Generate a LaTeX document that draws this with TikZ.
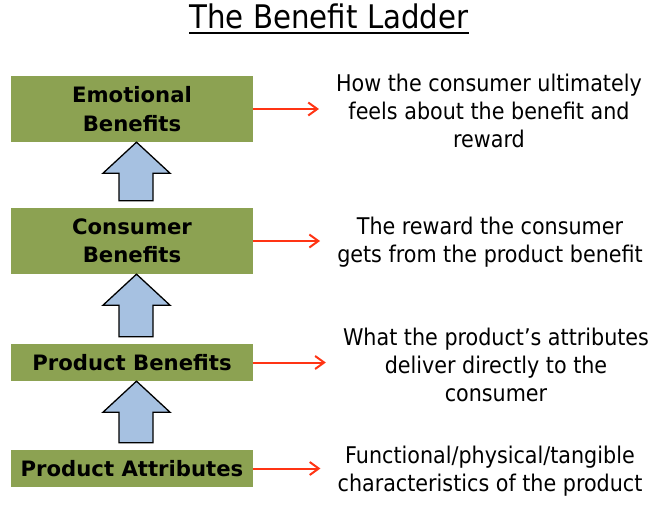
\documentclass[tikz,border=0pt]{standalone}
\usepackage{fontspec}
\setmainfont{DejaVu Sans Condensed}[BoldFont={DejaVu Sans Bold}]
\usetikzlibrary{arrows.meta,calc}
\definecolor{boxgreen}{HTML}{8CA252}
\definecolor{arrowblue}{HTML}{A6C1E1}
\definecolor{linkred}{HTML}{FF3414}
\tikzset{
  level/.style={draw=none, fill=boxgreen, minimum width=242pt, inner sep=0pt, align=center,
    font=\fontsize{21.2}{28.5}\selectfont\bfseries},
  desc/.style={inner sep=0pt, align=center, font=\fontsize{23}{28}\selectfont},
  link/.style={draw=linkred, line width=2pt, -{Straight Barb[length=9pt,width=13pt]}, shorten >=17pt},
  blockarrow/.style={draw=black, line width=1.3pt, fill=arrowblue, line join=miter}
}
\newcommand{\ladderarrow}[2]{%
  \draw[blockarrow] let \p1=(#1.south), \p2=(#2.north) in
    (\x1+4.5pt,\y1) -- (\x1+38pt,\y1-31pt) -- (\x1+21pt,\y1-31pt) -- (\x1+21pt,\y2+7pt)
    -- (\x1-13pt,\y2+7pt) -- (\x1-13pt,\y1-31pt) -- (\x1-29pt,\y1-31pt) -- cycle;}
\begin{document}
\begin{tikzpicture}[x=1pt,y=-1pt]
\useasboundingbox (0,0) rectangle (661,506);
% title
\node[inner sep=0pt, anchor=base, font=\fontsize{32.5}{38}\selectfont] (title) at (329,28) {The Benefit Ladder};
\draw[line width=2pt] ([yshift=-5pt]title.base west) -- ([yshift=-5pt]title.base east);
% ladder boxes
\node[level, minimum height=66pt] (emo) at (132,109) {Emotional\\Benefits};
\node[level, minimum height=66pt] (con) at (132,241) {Consumer\\Benefits};
\node[level, minimum height=37pt] (pb) at (132,362.5) {Product Benefits};
\node[level, minimum height=37pt] (pa) at (132,468.5) {Product Attributes};
% block arrows
\ladderarrow{emo}{con}
\ladderarrow{con}{pb}
\ladderarrow{pb}{pa}
% descriptions
\node[desc] (emotxt) at (489,111) {How the consumer ultimately\\feels about the benefit and\\reward};
\node[desc] (contxt) at (490,242) {The reward the consumer\\gets from the product benefit};
\node[desc] (pbtxt) at (496,365) {What the product’s attributes\\deliver directly to the\\consumer};
\node[desc] (patxt) at (490,471) {Functional/physical/tangible\\characteristics of the product};
% links
\draw[link] (emo.east) -- (emo.east -| emotxt.west);
\draw[link] (con.east) -- (con.east -| contxt.west);
\draw[link] (pb.east) -- (pb.east -| pbtxt.west);
\draw[link] (pa.east) -- (pa.east -| patxt.west);
\end{tikzpicture}
\end{document}
